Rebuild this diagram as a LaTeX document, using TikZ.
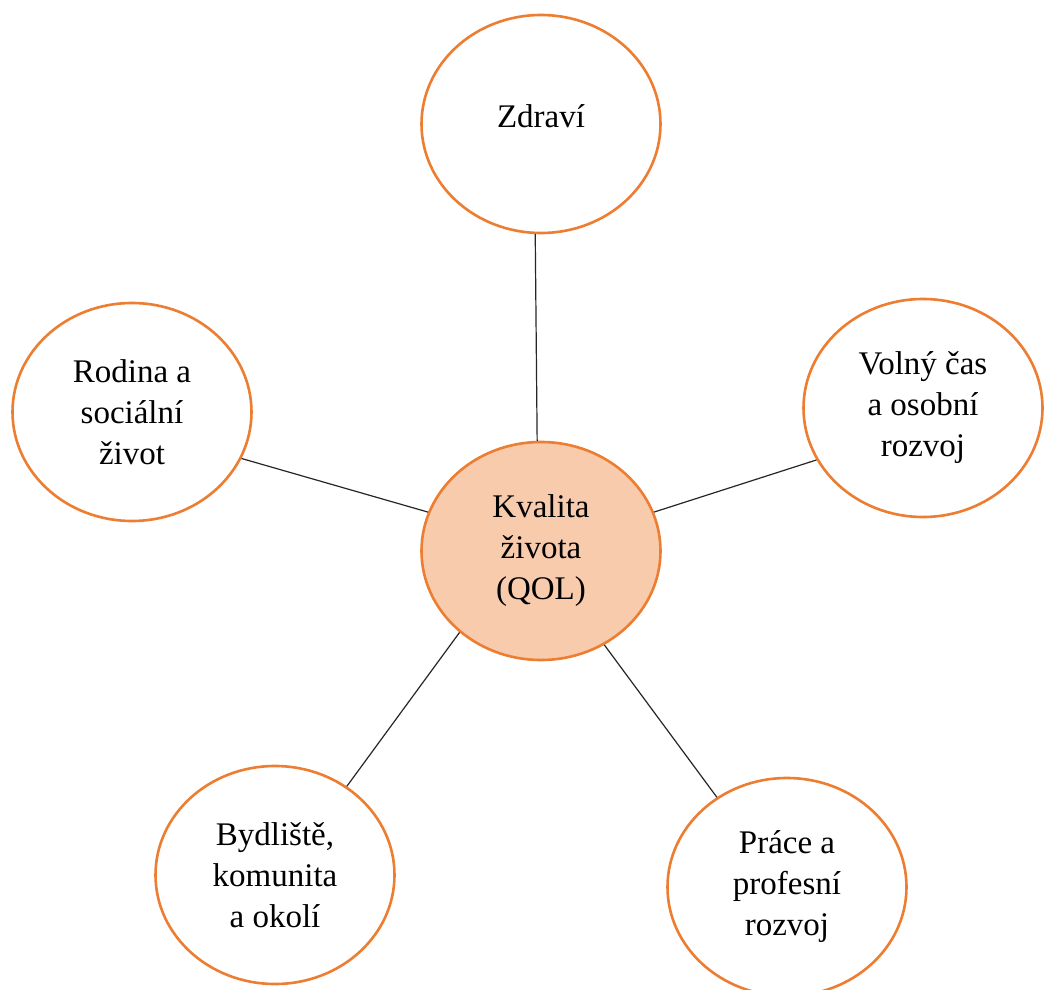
\documentclass[tikz,border=0pt]{standalone}
\usepackage{fontspec}
\setmainfont{Liberation Serif}
\usetikzlibrary{shapes.geometric}
\definecolor{orangeline}{HTML}{ED7D31}
\definecolor{peach}{HTML}{F8CBAD}
\begin{document}
\begin{tikzpicture}[x=1pt,y=-1pt,
  bubble/.style={ellipse, draw=orangeline, line width=2.6pt, fill=white,
    minimum width=239pt, minimum height=218pt, inner sep=0pt, align=center,
    font=\fontsize{33}{41}\selectfont},
  core/.style={bubble, fill=peach},
  lbl/.style={inner sep=0pt, align=center, font=\fontsize{33}{41}\selectfont},
  link/.style={line width=1.2pt, black!85}]
\clip (0,0) rectangle (1044,990);
\fill[white] (0,0) rectangle (1044,990);
\node[bubble] (zdr) at (541,124) {};
\node[lbl] (zdrT) at ([yshift=8pt]zdr.center) {Zdraví};
\node[bubble] (rod) at (132,412) {Rodina a\\sociální\\život};
\node[bubble] (vol) at (923,408) {Volný čas\\a osobní\\rozvoj};
\node[core] (kq) at (541,551) {Kvalita\\života\\(QOL)};
\node[bubble] (byd) at (275,875) {Bydliště,\\komunita\\a okolí};
\node[bubble] (pra) at (787,887) {Práce a\\profesní\\rozvoj};
\draw[link] (kq.92.6) -- (zdr.267.4);
\draw[link] (kq.161.6) -- (rod.337.1);
\draw[link] (kq.19.8) -- (vol.206.6);
\draw[link] (kq.225.3) -- (byd.51.3);
\draw[link] (kq.304.8) -- (pra.128.6);
\end{tikzpicture}
\end{document}
